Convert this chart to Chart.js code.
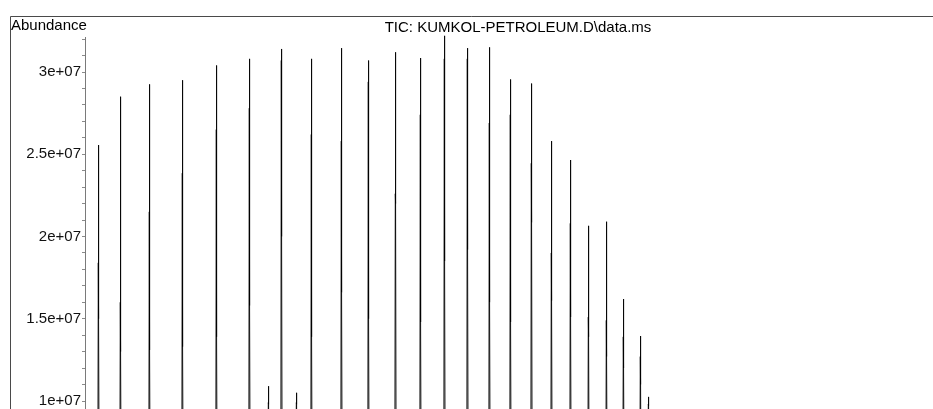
<!DOCTYPE html>
<html>
<head>
<meta charset="utf-8">
<title>TIC: KUMKOL-PETROLEUM.D\data.ms</title>
<script src="https://cdn.jsdelivr.net/npm/chart.js@4/dist/chart.umd.min.js"></script>
<style>
  html, body { margin: 0; padding: 0; background: #fff; overflow: hidden; }
  #wrap { width: 933px; height: 409px; }
</style>
</head>
<body>
<div id="wrap"><canvas id="tic" width="933" height="409"></canvas></div>
<script>
// Total ion chromatogram, retention time (min) against abundance.
const chartTitle = 'TIC: KUMKOL-PETROLEUM.D\\data.ms';
const yAxisTitle = 'Abundance';

// Peak retention times (min)
const retentionTimes = [3.573, 4.507, 5.738, 7.139, 8.582, 9.983, 10.790, 11.342, 11.979, 12.615,
  13.889, 15.035, 16.181, 17.243, 18.262, 19.238, 20.172, 21.063, 21.955, 22.804,
  23.611, 24.375, 25.139, 25.860, 26.582, 26.922];

// Peak apex abundance
const apexAbundance = [2.556e7, 2.85e7, 2.925e7, 2.95e7, 3.04e7, 3.08e7, 1.09e7, 3.14e7, 1.05e7, 3.08e7,
  3.145e7, 3.07e7, 3.12e7, 3.085e7, 3.22e7, 3.145e7, 3.15e7, 2.955e7, 2.93e7, 2.58e7,
  2.465e7, 2.065e7, 2.09e7, 1.62e7, 1.395e7, 1.025e7];

// Abundance of the scan just before the apex (leading edge)
const leadingScan = [1.84e7, 1.6e7, 2.15e7, 2.385e7, 2.65e7, 2.78e7, 0.99e7, 3.07e7, 0.99e7, 2.62e7,
  2.58e7, 2.94e7, 2.26e7, 2.74e7, 3.08e7, 3.08e7, 2.69e7, 2.74e7, 2.445e7, 1.9e7,
  2.08e7, 1.51e7, 1.49e7, 1.39e7, 1.27e7, 0.98e7];

// Abundance of the scan just after the apex (trailing edge)
const trailingScan = [1.5e7, 1.3e7, 1.31e7, 1.33e7, 1.39e7, 1.58e7, 0.98e7, 2.0e7, 0.98e7, 1.39e7,
  1.66e7, 1.5e7, 2.2e7, 1.48e7, 1.85e7, 1.92e7, 1.6e7, 1.48e7, 2.085e7, 1.61e7,
  1.51e7, 1.39e7, 1.27e7, 1.2e7, 1.1e7, 0.97e7];

// Baseline abundance between peaks
const baselineAbundance = 4e6;

// Labelled y ticks and the minor tick step between them
const yTickLabels = [1e7, 1.5e7, 2e7, 2.5e7, 3e7];
const yMinorStep = 1e6;

// Build the scan trace: baseline -> leading scan -> apex -> trailing scan -> baseline
const trace = [];
retentionTimes.forEach((t, i) => {
  trace.push({ x: t - 0.03, y: baselineAbundance });
  trace.push({ x: t - 0.008, y: leadingScan[i] });
  trace.push({ x: t, y: apexAbundance[i] });
  trace.push({ x: t + 0.008, y: trailingScan[i] });
  trace.push({ x: t + 0.03, y: baselineAbundance });
});

function sciLabel(v) {
  // 3e+07, 2.5e+07 ...
  const [m, e] = v.toExponential().split('e');
  const exp = parseInt(e, 10);
  const sign = exp < 0 ? '-' : '+';
  return m + 'e' + sign + String(Math.abs(exp)).padStart(2, '0');
}

const FONT = '"Liberation Sans", Arial, Helvetica, sans-serif';

const framePlugin = {
  id: 'frame',
  beforeDraw(chart) {
    const ctx = chart.ctx;
    ctx.save();
    ctx.strokeStyle = '#4a4a4a';
    ctx.lineWidth = 1;
    ctx.beginPath();
    ctx.moveTo(10.5, chart.height);
    ctx.lineTo(10.5, 16.5);
    ctx.lineTo(chart.width, 16.5);
    ctx.stroke();
    ctx.restore();
  },
  afterDraw(chart) {
    const ctx = chart.ctx;
    ctx.save();
    ctx.fillStyle = '#000';
    ctx.textBaseline = 'alphabetic';
    ctx.font = '15px ' + FONT;
    ctx.textAlign = 'left';
    ctx.fillText(yAxisTitle, 11, 30);
    ctx.textAlign = 'center';
    ctx.fillText(chartTitle, 518, 32);
    ctx.restore();
  }
};

new Chart(document.getElementById('tic'), {
  type: 'line',
  data: {
    datasets: [{
      data: trace,
      borderColor: 'rgba(0,0,0,0.9)',
      borderWidth: 1,
      pointRadius: 0,
      tension: 0,
      fill: false,
      clip: false
    }]
  },
  options: {
    responsive: false,
    devicePixelRatio: 1,
    animation: false,
    events: [],
    layout: { padding: { top: 37, left: 0, right: 0, bottom: 0 } },
    plugins: { legend: { display: false }, tooltip: { enabled: false }, title: { display: false } },
    scales: {
      x: { type: 'linear', min: 3, max: 39, display: false },
      y: {
        type: 'linear',
        position: 'left',
        min: 9.514e6,
        max: 3.2128e7,
        afterBuildTicks(scale) {
          const ticks = [];
          const first = Math.ceil(scale.min / yMinorStep);
          const last = Math.floor(scale.max / yMinorStep);
          for (let k = first; k <= last; k++) ticks.push({ value: k * yMinorStep });
          scale.ticks = ticks;
        },
        afterFit(scale) {
          scale.width = 85;
          scale.paddingTop = 0;
          scale.paddingBottom = 0;
        },
        grid: {
          drawOnChartArea: false,
          drawTicks: true,
          tickLength: 3,
          color: '#8a8a8a'
        },
        border: { display: true, color: '#7a7a7a', width: 1 },
        ticks: {
          autoSkip: false,
          padding: 1,
          color: '#111',
          font: { family: FONT, size: 15 },
          callback(v) {
            const hit = yTickLabels.find(l => Math.abs(l - v) < 1000);
            return hit !== undefined ? sciLabel(hit) : '';
          }
        }
      }
    }
  },
  plugins: [framePlugin]
});
</script>
</body>
</html>
